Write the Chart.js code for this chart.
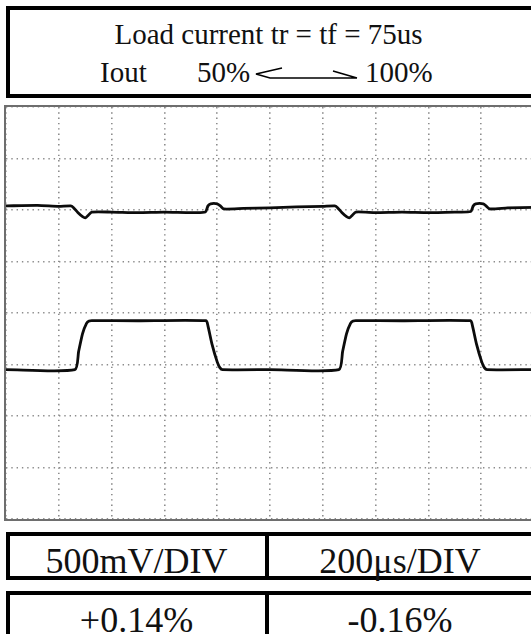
<!DOCTYPE html>
<html>
<head>
<meta charset="utf-8">
<script src="https://cdn.jsdelivr.net/npm/chart.js@4.4.1/dist/chart.umd.min.js"></script>
<style>
  html, body { margin: 0; padding: 0; background: #fff; overflow: hidden; }
  body { width: 531px; height: 634px; position: relative; font-family: "Liberation Serif", "Times New Roman", serif; color: #111; }
  .box { position: absolute; box-sizing: border-box; border: 4px solid #000; border-right: none; }
  .txt { position: absolute; white-space: nowrap; line-height: 1; }
  .frame { position: absolute; left: 4px; top: 105px; width: 540px; height: 416px; box-sizing: border-box; border: 2px solid #6e6e6e; border-right: none; }
  .plot { position: absolute; left: 6px; top: 107px; width: 528px; height: 412px; }
</style>
</head>
<body>

<!-- header: test condition -->
<div class="box" style="left:6px; top:6px; width:540px; height:92px;"></div>
<div class="txt" style="left:6px; width:525px; text-align:center; top:20px; font-size:29px;">Load current tr = tf = 75us</div>
<div class="txt" style="left:100px; top:58px; font-size:29px;">Iout</div>
<div class="txt" style="left:197px; top:58px; font-size:29px;">50%</div>
<svg style="position:absolute; left:253px; top:62px;" width="112" height="24">
  <path d="M29 6 L3 12 L17 16 L104 16 M80 9 L104 16" stroke="#000" stroke-width="1.6" fill="none"/>
</svg>
<div class="txt" style="left:365px; top:58px; font-size:29px;">100%</div>

<!-- scope screen -->
<div class="frame"></div>
<div class="plot"><canvas id="scope"></canvas></div>

<!-- scale settings -->
<div class="box" style="left:6px; top:532px; width:540px; height:48px;"></div>
<div style="position:absolute; left:265px; top:532px; width:4px; height:48px; background:#000;"></div>
<div class="txt" style="left:6px; width:261px; text-align:center; top:543px; font-size:36px;">500mV/DIV</div>
<div class="txt" style="left:269px; width:262px; text-align:center; top:543px; font-size:36px;">200μs/DIV</div>

<!-- deviation -->
<div class="box" style="left:6px; top:591px; width:540px; height:60px;"></div>
<div style="position:absolute; left:265px; top:591px; width:4px; height:60px; background:#000;"></div>
<div class="txt" style="left:6px; width:261px; text-align:center; top:602px; font-size:36px;">+0.14%</div>
<div class="txt" style="left:269px; width:262px; text-align:center; top:602px; font-size:36px;">-0.16%</div>

<script>
// time axis in microseconds, vertical axis in divisions (centre = 0)
const timeTicks = [0, 200, 400, 600, 800, 1000, 1200, 1400, 1600, 1800, 2000];
const divTicks = [-4, -3, -2, -1, 0, 1, 2, 3, 4];

// output voltage (AC coupled)
const voutT = [0, 120, 200, 245, 255, 272, 290, 302, 312, 325, 400, 500, 600, 700, 755, 765, 775, 800, 812, 825, 900, 1000, 1100, 1200,
               1245, 1255, 1272, 1290, 1302, 1312, 1325, 1400, 1500, 1600, 1700, 1760, 1770, 1779, 1808, 1818, 1833, 1900, 2000];
const voutV = [2.08, 2.09, 2.07, 2.08, 2.05, 1.95, 1.87, 1.85, 1.9, 1.96, 1.96, 1.95, 1.96, 1.95, 1.96, 2.08, 2.12, 2.12, 2.08, 2.02, 2.03, 2.04, 2.06, 2.07,
               2.08, 2.05, 1.95, 1.87, 1.85, 1.9, 1.96, 1.95, 1.96, 1.95, 1.96, 1.97, 2.08, 2.12, 2.12, 2.08, 2.02, 2.04, 2.05];

// load current step 50% <-> 100%
const ioutT = [0, 261, 275, 290, 305, 315, 325, 500, 758, 765, 780, 800, 810, 820, 1000,
               1261, 1275, 1290, 1305, 1315, 1325, 1500, 1760, 1767, 1782, 1802, 1812, 1822, 2000];
const ioutV = [-1.1, -1.1, -0.75, -0.4, -0.2, -0.155, -0.15, -0.15, -0.15, -0.25, -0.6, -0.95, -1.06, -1.1, -1.1,
               -1.1, -0.75, -0.4, -0.2, -0.155, -0.15, -0.15, -0.15, -0.25, -0.6, -0.95, -1.06, -1.1, -1.1];

const toPoints = (xs, ys) => xs.map((x, i) => ({ x: x, y: ys[i] }));

const trace = {
    borderColor: '#0c0c0c',
    borderWidth: 2.8,
    pointRadius: 0,
    tension: 0.2,
    fill: false
};

const gridStyle = { color: '#8c8c8c', lineWidth: 1.6, drawTicks: false };
const dotted = { display: false, dash: [1.4, 3.9] };

new Chart(document.getElementById('scope'), {
    type: 'line',
    data: {
        datasets: [
            Object.assign({ data: toPoints(voutT, voutV) }, trace),
            Object.assign({ data: toPoints(ioutT, ioutV) }, trace)
        ]
    },
    options: {
        responsive: true,
        maintainAspectRatio: false,
        animation: false,
        layout: { padding: 0 },
        plugins: { legend: { display: false }, tooltip: { enabled: false } },
        scales: {
            x: {
                type: 'linear',
                min: 0,
                max: 2000,
                afterBuildTicks: axis => { axis.ticks = timeTicks.map(v => ({ value: v })); },
                ticks: { display: false },
                grid: gridStyle,
                border: dotted
            },
            y: {
                min: -4,
                max: 4,
                afterBuildTicks: axis => { axis.ticks = divTicks.map(v => ({ value: v })); },
                ticks: { display: false },
                grid: gridStyle,
                border: dotted
            }
        }
    }
});
</script>
</body>
</html>
